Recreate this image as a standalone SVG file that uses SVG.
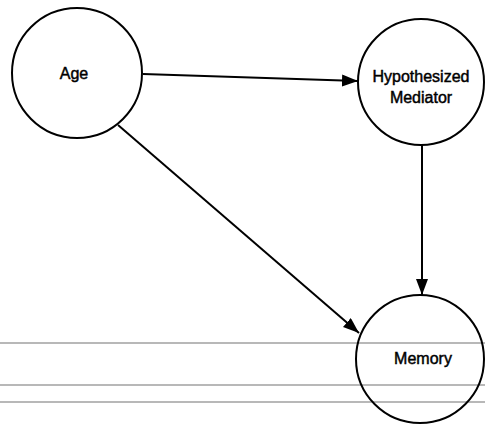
<svg xmlns="http://www.w3.org/2000/svg" width="485" height="425" viewBox="0 0 485 425">
<style>
.node circle{fill:none;stroke:#000;stroke-width:2}
.node text{font-family:"Liberation Sans",Arial,sans-serif;font-size:16px;fill:#000;stroke:#000;stroke-width:0.45;text-anchor:middle}
.edge{stroke:#000;stroke-width:2;fill:none;marker-end:url(#arr)}
.rule{stroke:#a0a0a0;stroke-width:1.3}
</style>
<defs>
<marker id="arr" markerUnits="userSpaceOnUse" markerWidth="18" markerHeight="13" refX="16" refY="6" orient="auto">
<path d="M0,0 L16,6 L0,12 z" fill="#000"/>
</marker>
</defs>
<rect width="485" height="425" fill="#fff"/>
<g id="rules">
<line class="rule" x1="0" y1="343" x2="485" y2="343"/>
<line class="rule" x1="0" y1="385" x2="485" y2="385" stroke="#909090"/>
<line class="rule" x1="0" y1="402" x2="485" y2="402" stroke="#808080"/>
</g>
<g id="connectors">
<line class="edge" x1="143" y1="74" x2="358" y2="81"/>
<line class="edge" x1="118" y1="125" x2="359" y2="333"/>
<line class="edge" x1="422" y1="145" x2="422" y2="295"/>
</g>
<g id="age" class="node">
<circle cx="77" cy="73" r="65"/>
<text x="74" y="79">Age</text>
</g>
<g id="mediator" class="node">
<circle cx="421" cy="82" r="63"/>
<text x="421" y="82">Hypothesized</text>
<text x="421" y="103">Mediator</text>
</g>
<g id="memory" class="node">
<circle cx="420" cy="359" r="64"/>
<text x="423" y="364">Memory</text>
</g>
</svg>
